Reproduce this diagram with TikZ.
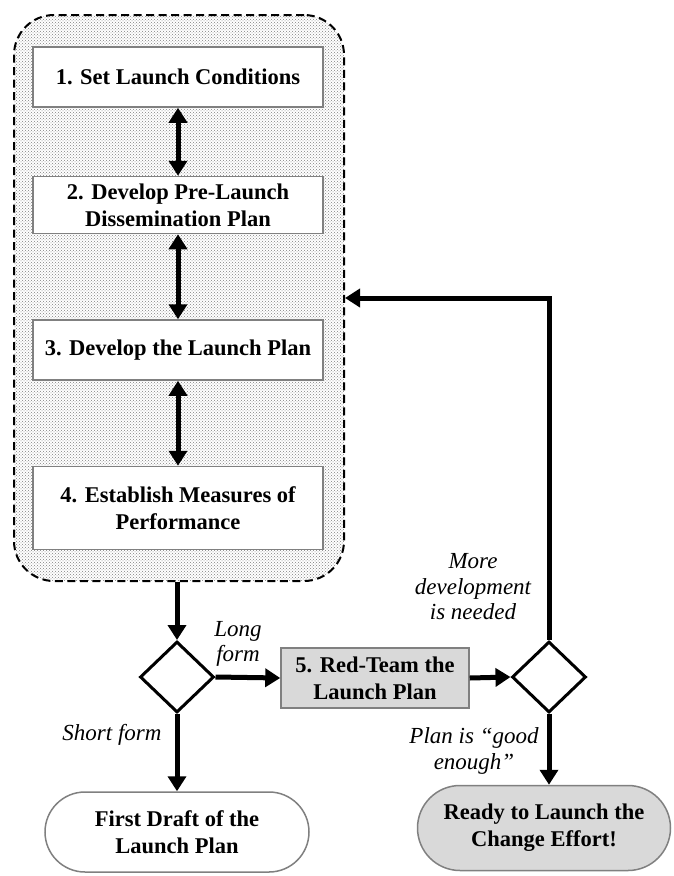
\documentclass[tikz,border=0pt]{standalone}
\usepackage{fontspec}
\setmainfont{Liberation Serif}
\usetikzlibrary{arrows.meta,shapes.geometric,shapes.misc,patterns}
\begin{document}
\begin{tikzpicture}[x=1pt,y=-1pt,
  stepbox/.style={draw=black!50, line width=1.5pt, fill=white, minimum width=290pt, align=center, font=\bfseries\fontsize{22.5}{27}\selectfont, inner sep=0pt},
  redbox/.style={stepbox, fill=black!15, minimum width=188pt, minimum height=60pt},
  endbox/.style={draw=black!50, line width=1.5pt, rounded rectangle, align=center, font=\bfseries\fontsize{22.5}{27}\selectfont, inner sep=0pt},
  decision/.style={draw=black, line width=3pt, diamond, minimum width=74pt, minimum height=71pt, inner sep=0pt, fill=white},
  lbl/.style={align=center, font=\itshape\fontsize{23}{25.5}\selectfont, inner sep=0pt},
  conn/.style={line width=5pt, -{Triangle[length=15pt,width=18pt]}},
  dbl/.style={line width=5pt, {Triangle[length=15pt,width=18pt]}-{Triangle[length=15pt,width=18pt]}}
]
\useasboundingbox (0,0) rectangle (673,876);
\node[draw=black, line width=2pt, dash pattern=on 8pt off 4.5pt, rounded corners=40pt,
  preaction={fill=white}, pattern=crosshatch dots, pattern color=black!50,
  minimum width=330pt, minimum height=566pt, inner sep=0pt] (outer) at (179,298) {};
\node[stepbox, minimum height=60pt] (s1) at (178,77) {1. Set Launch Conditions};
\node[stepbox, minimum height=57pt] (s2) at (178,205) {2. Develop Pre-Launch\\Dissemination Plan};
\node[stepbox, minimum height=60pt] (s3) at (178,350) {3. Develop the Launch Plan};
\node[stepbox, minimum height=83pt] (s4) at (178,508) {4. Establish Measures of\\Performance};
\draw[dbl] (s1) -- (s2);
\draw[dbl] (s2) -- (s3);
\draw[dbl] (s3) -- (s4);
\node[decision] (ld) at (177,677) {};
\node[decision] (rd) at (549,677) {};
\node[redbox] (s5) at (375,678) {5. Red-Team the\\Launch Plan};
\node[endbox, fill=white, minimum width=264pt, minimum height=80pt] (first) at (177,832) {First Draft of the\\Launch Plan};
\node[endbox, fill=black!15, minimum width=253pt, minimum height=85pt] (ready) at (544,828) {Ready to Launch the\\Change Effort!};
\draw[conn] (outer.south -| ld) -- (ld.north);
\draw[conn] (ld.east) -- (s5.west);
\draw[conn] (ld.south) -- (first.north);
\draw[conn] (s5.east) -- (rd.west);
\draw[conn] (rd.south) -- (rd.south |- ready.north);
\draw[conn] (rd.north) |- (outer.east);
\node[lbl] (long) at (238,644) {Long\\form};
\node[lbl] (short) at (112,735) {Short form};
\node[lbl] (more) at (473,587) {More\\development\\is needed};
\node[lbl] (good) at (474,751) {Plan is “good\\enough”};
\end{tikzpicture}
\end{document}
